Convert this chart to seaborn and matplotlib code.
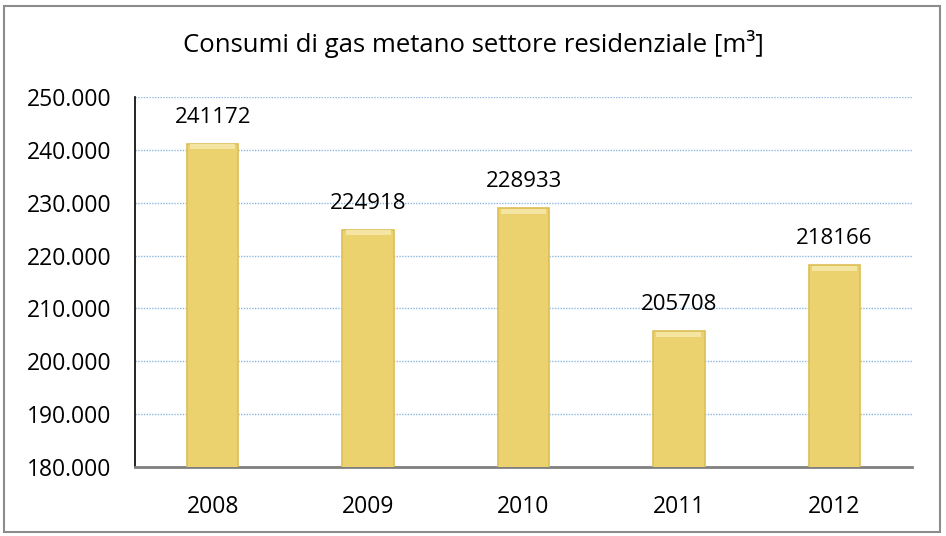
import matplotlib
matplotlib.use("Agg")
import matplotlib.pyplot as plt
import seaborn as sns
import pandas as pd
from matplotlib.patches import Rectangle

years = ["2008", "2009", "2010", "2011", "2012"]
values = [241172, 224918, 228933, 205708, 218166]
y_ticks = [180000, 190000, 200000, 210000, 220000, 230000, 240000, 250000]
y_tick_labels = ["180.000", "190.000", "200.000", "210.000", "220.000", "230.000", "240.000", "250.000"]
title = "Consumi di gas metano settore residenziale [m³]"

sns.set_theme(style="white")
plt.rcParams['font.family'] = ['Open Sans', 'DejaVu Sans']

df = pd.DataFrame({"anno": years, "consumo": values})

fig = plt.figure(figsize=(9.46, 5.36), dpi=100)
ax = fig.add_axes([135/946, 1 - 467/536, (912-135)/946, (467-97)/536])

sns.barplot(data=df, x="anno", y="consumo", color="#EBD26F", width=0.33,
            saturation=1, ax=ax, zorder=3, edgecolor="#DDBF55", linewidth=1.2)

ax.set_ylim(180000, 250000)
ax.set_yticks(y_ticks)
ax.set_yticklabels(y_tick_labels, fontsize=16.5, color="black")
ax.tick_params(axis="x", labelsize=16.5, colors="black", pad=20, length=0)
ax.tick_params(axis="y", pad=17, length=0)
ax.set_xlabel("")
ax.set_ylabel("")
ax.yaxis.grid(True, color="#8DB8E2", linestyle=(0, (1, 1)), linewidth=1, zorder=0)
ax.set_axisbelow(True)

# light bevel highlight on bar tops
bars = list(ax.patches)
for p in bars:
    ax.add_patch(Rectangle((p.get_x() + p.get_width() * 0.06, p.get_height() - 1100),
                           p.get_width() * 0.88, 1000, facecolor="#F4E6A2",
                           edgecolor="none", zorder=4))

for s in ["top", "right"]:
    ax.spines[s].set_visible(False)
ax.spines["left"].set_color("black")
ax.spines["left"].set_linewidth(1.2)
ax.spines["bottom"].set_color("#808080")
ax.spines["bottom"].set_linewidth(2)

for p, v in zip(bars, values):
    ax.text(p.get_x() + p.get_width() / 2, v + 3000, str(v),
            ha="center", va="bottom", fontsize=16, color="black", zorder=5)

fig.text(0.5, 1 - 44/536, title, ha="center", va="center", fontsize=18.5, color="black")

border = Rectangle((4/946, 4/536), 936/946, 526/536, transform=fig.transFigure,
                   fill=False, edgecolor="#8C8C8C", linewidth=1.5)
fig.add_artist(border)

fig.savefig("out.png", dpi=100)
